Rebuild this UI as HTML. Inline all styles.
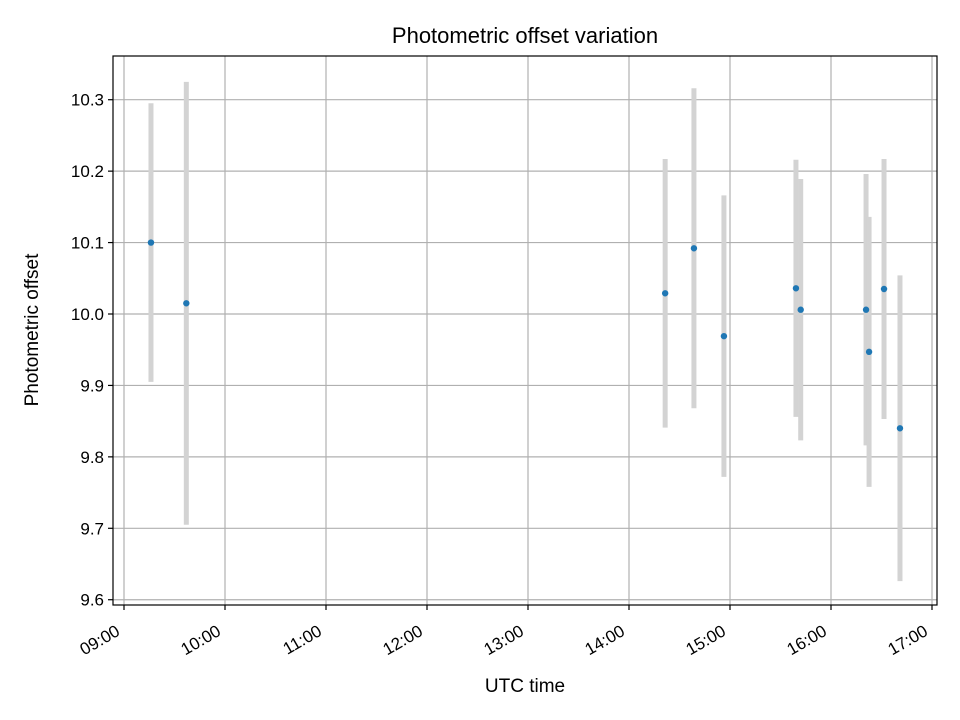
<!DOCTYPE html>
<html><head><meta charset="utf-8"><style>
body{margin:0;background:#fff;}
svg{display:block;font-family:"Liberation Sans","DejaVu Sans",sans-serif;}
</style></head><body>
<svg id="chart" width="960" height="720" xmlns="http://www.w3.org/2000/svg">
<rect width="960" height="720" fill="#fff"/>
<text x="525" y="43" font-size="22" text-anchor="middle">Photometric offset variation</text>
<g id="grid"></g>
<g id="marks"></g>
<rect x="113" y="56" width="824" height="549" fill="none" stroke="#000" stroke-width="1.2"/>
<g id="ticks"></g>
<text x="525" y="692" font-size="19" text-anchor="middle">UTC time</text>
<text transform="translate(38,330) rotate(-90)" font-size="19" text-anchor="middle">Photometric offset</text>
</svg>
<script>
const times=[9.267,9.617,14.358,14.643,14.94,15.653,15.7,16.347,16.377,16.525,16.683];
const offsets=[10.100,10.015,10.029,10.092,9.969,10.036,10.006,10.006,9.947,10.035,9.840];
const errors=[0.195,0.31,0.188,0.224,0.197,0.18,0.183,0.19,0.189,0.182,0.214];
const xTickLabels=["09:00","10:00","11:00","12:00","13:00","14:00","15:00","16:00","17:00"];
const xTickHours=[9,10,11,12,13,14,15,16,17];
const yTicks=[9.6,9.7,9.8,9.9,10.0,10.1,10.2,10.3];
const NS="http://www.w3.org/2000/svg";
function xs(h){return 124+(h-9)*101;}
function ys(v){return 314-(v-10)*714.3;}
function mk(tag,attrs,parent){const e=document.createElementNS(NS,tag);for(const k in attrs)e.setAttribute(k,attrs[k]);parent.appendChild(e);return e;}
const grid=document.getElementById('grid'),marks=document.getElementById('marks'),ticks=document.getElementById('ticks');
xTickHours.forEach((h,i)=>{
 const x=xs(h);
 const g=mk('line',{x1:x,x2:x,y1:56,y2:605,stroke:'#b0b0b0','stroke-width':1.2},grid);
 
 
 const t=mk('line',{x1:x,x2:x,y1:605,y2:610,stroke:'#000','stroke-width':1.2},ticks);
 
 
 const l=mk('text',{transform:`translate(${x-9},${624}) rotate(-30)`,'font-size':17,'text-anchor':'end','dominant-baseline':'hanging'},ticks);
 l.textContent=xTickLabels[i];
 
 
});
yTicks.forEach(v=>{
 const y=ys(v);
 const g=mk('line',{x1:113,x2:937,y1:y,y2:y,stroke:'#b0b0b0','stroke-width':1.2},grid);
 
 
 const t=mk('line',{x1:108,x2:113,y1:y,y2:y,stroke:'#000','stroke-width':1.2},ticks);
 
 
 const l=mk('text',{x:104,y:y+6,'font-size':17,'text-anchor':'end'},ticks);
 l.textContent=v.toFixed(1);
 
 
});
times.forEach((h,i)=>{
 const x=xs(h);
 const e=mk('line',{x1:x,x2:x,y1:ys(offsets[i]+errors[i]),y2:ys(offsets[i]-errors[i]),stroke:'#d3d3d3','stroke-width':5},marks);
 
 
});
times.forEach((h,i)=>{
 const c=mk('circle',{cx:xs(h),cy:ys(offsets[i]),r:3.2,fill:'#1f77b4'},marks);
 
 
});
</script>
</body></html>
